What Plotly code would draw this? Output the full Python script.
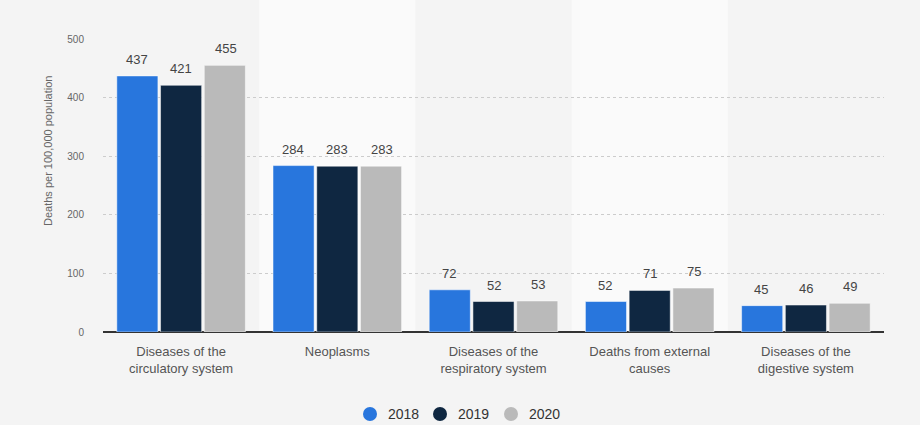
import plotly.graph_objects as go

categories = ["Diseases of the<br>circulatory system", "Neoplasms",
              "Diseases of the<br>respiratory system", "Deaths from external<br>causes",
              "Diseases of the<br>digestive system"]
years = ["2018", "2019", "2020"]
values_2018 = [437, 284, 72, 52, 45]
values_2019 = [421, 283, 52, 71, 46]
values_2020 = [455, 283, 53, 75, 49]
colors = ["#2876DD", "#0F2741", "#BABABA"]
y_ticks = [0, 100, 200, 300, 400, 500]

series = [values_2018, values_2019, values_2020]

W, H = 920, 425
ML, MR, MT, MB = 103, 36, 39, 93
PW, PH = W - ML - MR, H - MT - MB
FONT = "Liberation Sans, Arial, sans-serif"

def px_x(p):
    return (p - ML) / PW

def px_y(p):
    return (H - MB - p) / PH

fig = go.Figure()
for name, vals, col in zip(years, series, colors):
    fig.add_trace(go.Bar(
        x=categories, y=vals, name=name,
        marker=dict(color=col, line=dict(color="rgba(255,255,255,0.5)", width=1)),
        showlegend=False, hoverinfo="x+y+name",
    ))

# value labels above bars
annotations = []
bar_step = 44.5
for j, vals in enumerate(series):
    for cat, v in zip(categories, vals):
        annotations.append(dict(
            x=cat, y=v, xref="x", yref="y", text=str(v), showarrow=False,
            xshift=(j - 1) * bar_step, yshift=7, yanchor="bottom",
            font=dict(size=13, color="#444444", family=FONT),
        ))

# y-axis title
annotations.append(dict(
    x=px_x(48), y=px_y(151), xref="paper", yref="paper", text="Deaths per 100,000 population",
    textangle=-90, showarrow=False, xanchor="center", yanchor="middle",
    font=dict(size=11, color="#666666", family=FONT),
))

shapes = []
n = len(categories)
for i in range(n):
    if i % 2 == 1:
        shapes.append(dict(type="rect", xref="paper", yref="paper",
                           x0=i / n, x1=(i + 1) / n, y0=0, y1=1.3,
                           fillcolor="#FAFAFA", line=dict(width=0), layer="below"))

# custom legend (circles + labels)
legend_cx = [370, 440, 511]
legend_cy = 414
for name, col, cx in zip(years, colors, legend_cx):
    shapes.append(dict(type="circle", xref="paper", yref="paper",
                       xsizemode="pixel", ysizemode="pixel",
                       xanchor=px_x(cx), yanchor=px_y(legend_cy),
                       x0=-7, x1=7, y0=-7, y1=7,
                       fillcolor=col, line=dict(width=0)))
    annotations.append(dict(x=px_x(cx + 16), y=px_y(legend_cy), xref="paper", yref="paper",
                            text=name, showarrow=False, xanchor="left", yanchor="middle",
                            font=dict(size=14, color="#333333", family=FONT)))

fig.update_layout(
    width=W, height=H,
    margin=dict(l=ML, r=MR, t=MT, b=MB),
    paper_bgcolor="#F4F4F4", plot_bgcolor="#F4F4F4",
    barmode="group", bargap=0.16, bargroupgap=0.06,
    font=dict(family=FONT, color="#555555"),
    shapes=shapes, annotations=annotations,
    showlegend=False,
    xaxis=dict(showgrid=False, showline=False, ticks="",
               tickfont=dict(size=13, color="#555555"), fixedrange=True,
               ticklabelstandoff=10),
    yaxis=dict(range=[0, 500], tickvals=y_ticks, showgrid=True, gridcolor="#CCCCCC",
               griddash="dot", gridwidth=1, zeroline=True, zerolinecolor="#333333",
               zerolinewidth=1.5, tickfont=dict(size=10, color="#666666"),
               ticks="", ticklabelstandoff=18, fixedrange=True),
)

fig.write_html("out.html", config={"displayModeBar": False},
               post_script="document.body.style.margin='0';document.body.style.background='#F4F4F4';document.body.style.overflow='hidden';")
